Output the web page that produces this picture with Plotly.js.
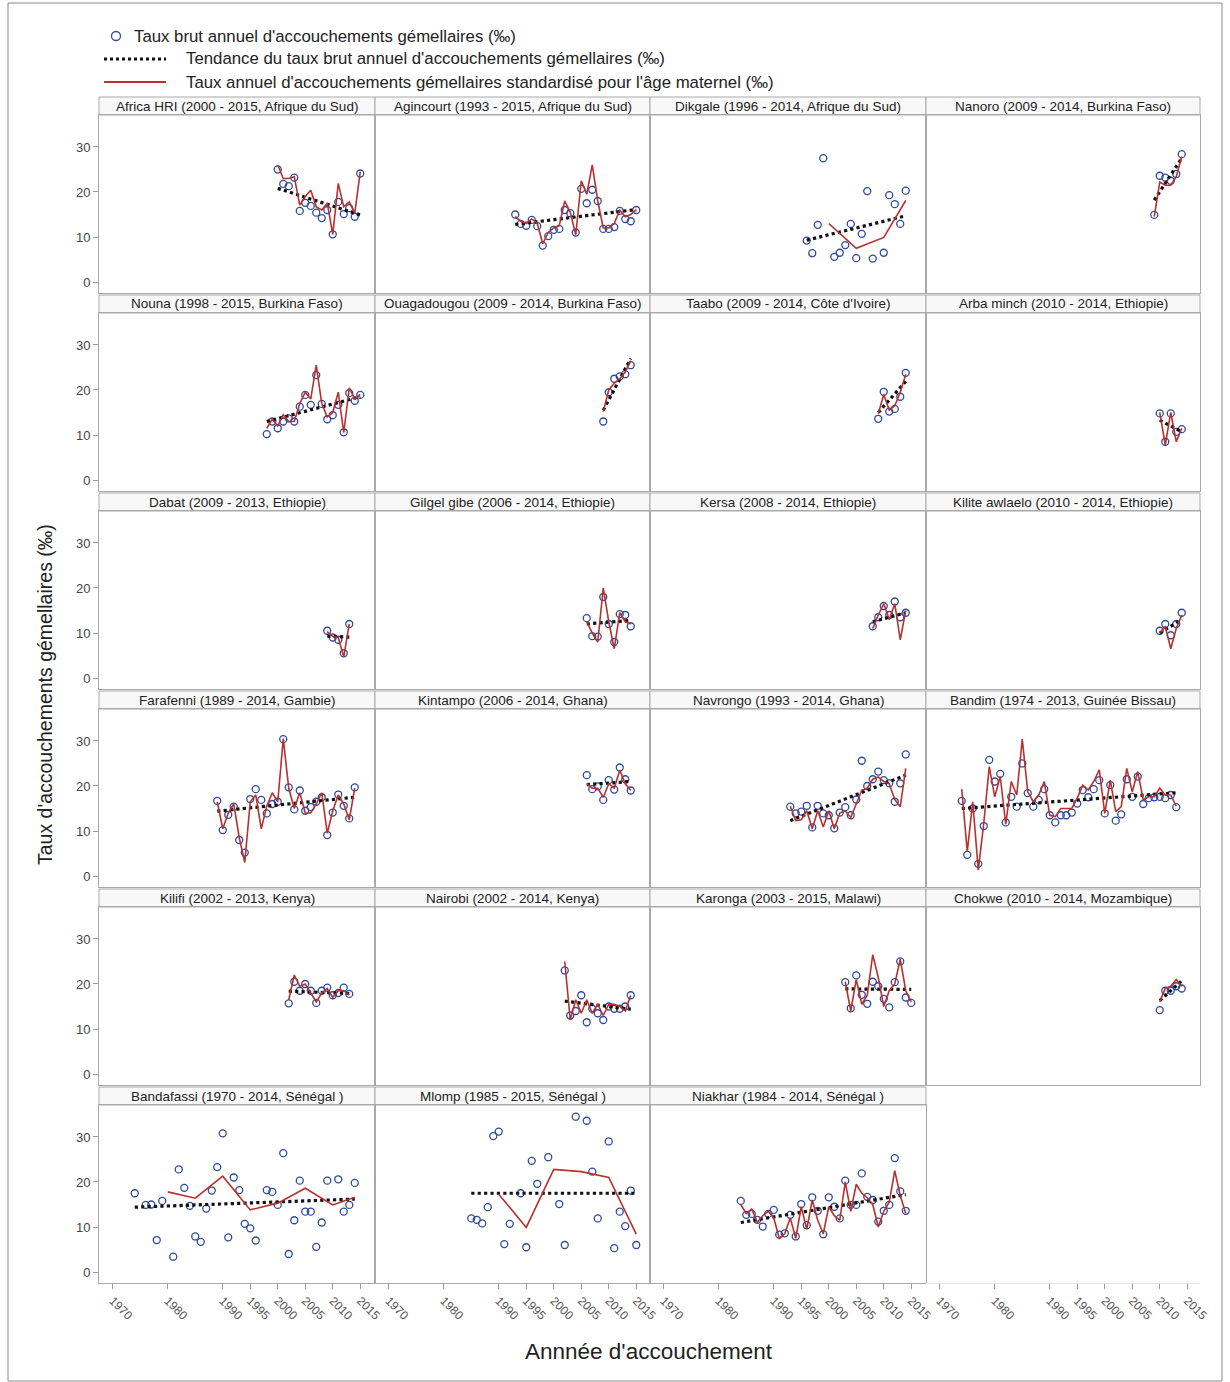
<!DOCTYPE html>
<html><head><meta charset="utf-8">
<script src="https://cdn.plot.ly/plotly-3.0.1.min.js"></script>
<style>html,body{margin:0;padding:0;background:#fff}#chart{width:1230px;height:1382px}</style>
</head><body><div id="chart"></div>
<script>
// ---------- DATA ----------
const siteTitles = [
 "Africa HRI (2000 - 2015, Afrique du Sud)", "Agincourt (1993 - 2015, Afrique du Sud)", "Dikgale (1996 - 2014, Afrique du Sud)", "Nanoro (2009 - 2014, Burkina Faso)",
 "Nouna (1998 - 2015, Burkina Faso)", "Ouagadougou (2009 - 2014, Burkina Faso)", "Taabo (2009 - 2014, Côte d'Ivoire)", "Arba minch (2010 - 2014, Ethiopie)",
 "Dabat (2009 - 2013, Ethiopie)", "Gilgel gibe (2006 - 2014, Ethiopie)", "Kersa (2008 - 2014, Ethiopie)", "Kilite awlaelo (2010 - 2014, Ethiopie)",
 "Farafenni (1989 - 2014, Gambie)", "Kintampo (2006 - 2014, Ghana)", "Navrongo (1993 - 2014, Ghana)", "Bandim (1974 - 2013, Guinée Bissau)",
 "Kilifi (2002 - 2013, Kenya)", "Nairobi (2002 - 2014, Kenya)", "Karonga (2003 - 2015, Malawi)", "Chokwe (2010 - 2014, Mozambique)",
 "Bandafassi (1970 - 2014, Sénégal )", "Mlomp (1985 - 2015, Sénégal )", "Niakhar (1984 - 2014, Sénégal )"
];
// first year of each crude series (consecutive years, null = no point)
const firstYear = [2000,1993,1996,2009, 1998,2009,2009,2010, 2009,2006,2008,2010, 1989,2006,1993,1974, 2002,2002,2003,2010, 1974,1985,1984];

const crudeRates = [
 [25.0,21.8,21.3,23.2,15.8,17.6,16.9,15.4,14.2,16.0,10.6,17.8,15.1,16.4,14.5,24.1],
 [15.0,12.9,12.5,13.8,12.4,8.1,10.2,11.6,11.8,16.0,15.3,11.0,20.7,17.5,20.5,18.0,11.8,11.8,12.2,15.8,14.0,13.5,16.0],
 [9.2,6.4,12.7,27.5,null,5.6,6.5,8.2,12.9,5.3,10.7,20.2,5.2,null,6.5,19.3,17.3,12.9,20.3],
 [14.9,23.6,23.2,22.5,24.0,28.4],
 [10.2,13.0,11.5,13.0,13.7,13.0,16.3,18.9,16.7,23.3,16.9,13.5,14.4,16.7,10.6,19.3,17.6,18.9],
 [13.0,19.5,22.5,23.0,23.5,25.5],
 [13.6,19.6,15.2,15.8,18.5,23.8],
 [14.8,8.5,14.8,10.7,11.3],
 [10.5,9.0,8.5,5.5,12.0],
 [13.3,9.3,9.2,18.0,12.0,8.0,14.2,14.0,11.5],
 [11.5,13.5,16.0,14.0,17.0,13.5,14.5],
 [10.5,12.0,9.5,12.0,14.5],
 [16.7,10.2,13.6,15.4,8.0,5.2,17.1,19.3,16.9,13.9,16.0,16.5,30.4,19.7,14.8,19.0,14.5,15.3,16.5,17.5,9.1,14.1,18.1,15.6,12.8,19.7],
 [22.4,19.3,19.9,16.9,21.3,19.2,24.1,21.5,19.0],
 [15.4,13.9,14.3,15.6,10.8,15.6,13.9,13.5,10.6,14.1,15.3,13.5,17.0,25.6,20.0,21.5,23.2,21.3,20.6,16.5,20.6,27.0],
 [16.7,4.7,15.0,2.7,11.1,25.8,21.0,22.7,11.9,17.6,15.4,25.0,18.4,15.4,16.9,19.3,13.5,11.9,13.5,13.5,14.1,16.1,19.1,17.5,19.3,21.3,13.9,20.2,12.3,13.7,21.5,17.6,22.1,16.0,17.3,17.5,17.6,17.3,18.0,15.3],
 [15.7,20.5,18.5,20.0,18.5,15.8,18.5,19.2,17.5,18.0,19.2,17.8],
 [23.0,13.0,14.0,17.5,11.5,14.5,13.5,12.0,15.0,14.5,14.5,15.0,17.5],
 [20.4,14.6,21.9,17.6,15.6,20.5,19.5,16.7,14.8,20.4,25.0,17.0,15.8],
 [14.2,18.5,18.5,19.5,19.0],
 [17.5,null,14.9,15.0,7.1,15.8,null,3.4,22.8,18.7,14.7,7.9,6.7,14.1,18.1,23.3,30.8,7.7,21.0,18.2,10.7,9.7,7.0,null,18.2,17.8,14.9,26.4,4.0,11.5,20.3,13.4,13.4,5.6,11.0,20.3,null,20.6,13.4,14.9,19.8],
 [11.9,11.6,10.8,14.4,30.2,31.2,6.2,10.7,null,17.5,5.5,24.7,19.6,null,25.5,null,15.1,6.0,null,34.5,null,33.6,22.3,11.9,null,29.0,5.3,13.4,10.2,18.1,6.0],
 [15.8,12.7,12.9,11.6,10.1,12.9,13.8,8.3,8.6,12.7,7.9,15.1,10.4,16.6,13.6,8.4,16.6,14.5,11.9,20.3,14.9,14.9,21.9,16.7,16.0,11.2,13.6,14.9,25.3,17.9,13.6]
];

// standardised rates; stdYears null = same years as crude series
const stdYears = [null,null,[2000,2005,2010,2014],null, null,null,null,null, null,null,null,null, null,null,null,null, null,null,null,null,
 [1980,1985,1990,1995,2000,2005,2010,2014],[1990,1995,2000,2005,2010,2015],null];
const stdRates = [
 [26.0,23.0,23.0,23.4,17.1,19.0,20.4,16.7,16.0,17.5,10.6,21.9,16.7,17.8,15.3,24.5],
 [14.5,13.5,13.0,14.0,13.0,8.5,11.0,12.0,12.5,18.0,15.5,10.5,22.5,19.5,26.0,18.0,12.0,12.0,13.0,16.0,14.5,15.0,16.0],
 [13.0,7.5,9.9,18.1],
 [14.5,22.2,21.5,21.5,23.4,27.9],
 [11.5,13.5,12.0,14.5,13.0,13.0,17.0,19.5,18.0,25.5,17.0,14.0,15.0,19.5,10.5,20.5,18.0,19.0],
 [15.2,20.0,21.5,22.5,24.0,26.5],
 [14.7,19.0,15.5,16.5,19.5,23.5],
 [15.0,7.8,15.0,8.5,11.5],
 [10.3,9.2,9.0,4.7,12.0],
 [12.5,10.0,8.0,20.0,12.5,6.5,14.5,12.5,12.0],
 [11.0,14.0,16.5,13.0,16.5,8.5,15.0],
 [10.0,11.5,6.5,11.0,14.0],
 [16.5,10.5,14.0,16.0,8.5,3.0,16.5,18.0,10.5,15.5,18.5,16.5,30.5,19.5,15.0,18.5,14.0,14.0,16.0,18.5,9.5,14.5,18.0,16.0,12.5,19.5],
 [20.5,19.5,19.5,17.5,20.5,19.5,23.5,20.5,19.0],
 [15.5,12.3,12.5,14.5,10.5,14.5,10.9,14.5,10.5,14.0,14.5,13.0,16.0,19.1,19.5,21.5,22.0,21.0,20.5,17.0,15.4,23.9],
 [19.3,5.4,16.5,1.3,11.7,24.3,17.6,22.1,11.5,21.0,18.0,30.4,18.7,16.5,18.0,21.0,13.5,13.2,15.0,15.0,15.0,17.3,20.2,19.1,21.0,23.6,13.9,21.3,14.3,15.4,23.9,18.7,23.2,16.9,17.6,17.6,19.5,18.0,18.0,15.5],
 [16.5,22.0,19.5,20.0,18.0,16.0,18.0,19.0,17.0,18.5,18.5,17.5],
 [25.0,12.0,16.5,13.5,16.5,13.5,15.5,13.0,15.5,15.5,15.0,14.0,17.5],
 [20.5,14.0,21.0,15.5,17.5,26.5,21.5,15.0,18.5,20.0,25.5,18.5,16.0],
 [16.0,19.0,19.5,21.0,19.5],
 [17.8,16.4,21.3,13.8,15.3,18.6,14.9,16.6],
 [17.3,9.9,22.8,22.3,21.0,8.4],
 [15,13,14,11,12.5,13.5,12,7.5,8.5,12,7.5,14.5,9.5,16,11.5,8.5,14.5,12.5,11.5,20,13.5,19.5,17.5,16.5,15,10,13.5,15.5,22.5,17,13]
];

// linear trend of crude rate: [first year, last year] and [start value, end value]
const trendYears = [[2000,2015],[1993,2015],[1996,2014],[2009,2014],[1998,2015],[2009,2014],[2009,2014],[2010,2014],
 [2009,2013],[2006,2014],[2008,2014],[2010,2014],[1989,2014],[2006,2014],[1993,2014],[1974,2013],
 [2002,2013],[2002,2014],[2003,2015],[2010,2014],[1974,2014],[1985,2015],[1984,2014]];
const trendRates = [[20.8,14.9],[12.8,16.1],[9.3,14.7],[18.2,27.5],[13.0,18.5],[15.5,27.0],[15.0,21.9],[13.3,10.7],
 [9.3,9.1],[12.0,12.8],[12.5,14.5],[10.0,13.0],[14.4,17.5],[20.3,21.0],[12.3,22.4],[15.0,18.5],
 [18.4,17.9],[16.2,14.4],[18.9,18.8],[16.3,20.7],[14.4,16.2],[17.5,17.5],[11.0,17.2]];

const xTickVals = [1970,1980,1990,1995,2000,2005,2010,2015];
const yTickVals = [0,10,20,30];
const legendLabels = ["Taux brut annuel d'accouchements gémellaires (‰)",
 "Tendance du taux brut annuel d'accouchements gémellaires (‰)",
 "Taux annuel d'accouchements gémellaires standardisé pour l'âge maternel (‰)"];

// ---------- LAYOUT ----------
const W = 1230, H = 1382;
const FONT = "Liberation Sans, Arial, sans-serif";
const colL = [99,375,650,926], colR = [375,650,926,1200];
const rowTop0 = 115, rowH = 198, plotH = 178, stripH = 18;
const px = v => v / W, py = v => 1 - v / H;
const CIRC = '#2d4b9e', RED = '#b8312f', BORDER = '#a9a9a9';

const traces = [];
const layout = {
  width: W, height: H, margin: {l:0, r:0, t:0, b:0},
  paper_bgcolor: '#fff', plot_bgcolor: '#fff', showlegend: false,
  font: {family: FONT, color: '#222'},
  shapes: [], annotations: []
};

for (let i = 0; i < 24; i++) {
  const r = Math.floor(i / 4), c = i % 4, k = i + 1;
  const top = rowTop0 + r * rowH, bot = top + plotH;
  const xa = 'xaxis' + (k === 1 ? '' : k), ya = 'yaxis' + (k === 1 ? '' : k);
  const xid = 'x' + (k === 1 ? '' : k), yid = 'y' + (k === 1 ? '' : k);
  const has = i < siteTitles.length;
  layout[xa] = {
    domain: [px(colL[c]), px(colR[c])], range: [1967.5, 1967.5 + (colR[c] - colL[c]) / 5.5],
    anchor: yid, showgrid: false, zeroline: false,
    showline: true, mirror: has, linecolor: has ? BORDER : '#e4e4e4', linewidth: 1,
    tickvals: xTickVals, ticks: r === 5 ? 'outside' : '', ticklen: 5, tickcolor: '#999',
    showticklabels: r === 5, tickangle: 45, tickfont: {size: 12, color: '#555', family: FONT}
  };
  layout[ya] = {
    domain: [py(bot), py(top)], range: [-2.44, 37.1], anchor: xid,
    showgrid: false, zeroline: false, showline: has, mirror: true, linecolor: BORDER, linewidth: 1,
    tickvals: yTickVals, ticks: (c === 0 && has) ? 'outside' : '', ticklen: 5, tickcolor: '#999',
    showticklabels: c === 0 && has, tickfont: {size: 13, color: '#444', family: FONT}
  };
  if (!has) {
    // empty cell keeps its year axis
    traces.push({x: [], y: [], xaxis: xid, yaxis: yid, type: 'scatter', mode: 'markers', hoverinfo: 'skip'});
    continue;
  }
  // strip
  layout.shapes.push({type:'rect', xref:'paper', yref:'paper', x0:px(colL[c]), x1:px(colR[c]),
    y0:py(top), y1:py(top - stripH), fillcolor:'#f8f8f8', line:{color:BORDER, width:1}, layer:'below'});
  layout.annotations.push({xref:'paper', yref:'paper', x:px((colL[c]+colR[c])/2), y:py(top - stripH/2),
    text: siteTitles[i], showarrow:false, xanchor:'center', yanchor:'middle', font:{size:13.5, color:'#222', family:FONT}});

  const yrs = crudeRates[i].map((_, j) => firstYear[i] + j);
  traces.push({x: yrs, y: crudeRates[i], xaxis: xid, yaxis: yid, mode: 'markers', type: 'scatter',
    name: legendLabels[0], cliponaxis: false,
    marker: {symbol: 'circle-open', size: 7, color: CIRC, line: {width: 1.3, color: CIRC}}});
  traces.push({x: trendYears[i], y: trendRates[i], xaxis: xid, yaxis: yid, mode: 'lines', type: 'scatter',
    name: legendLabels[1], line: {color: '#111', width: 3.2, dash: 'dot'}});
  traces.push({x: stdYears[i] || yrs, y: stdRates[i], xaxis: xid, yaxis: yid, mode: 'lines', type: 'scatter',
    name: legendLabels[2], connectgaps: true, line: {color: RED, width: 1.6}});
}

// manual legend
layout.shapes.push({type:'circle', xref:'paper', yref:'paper', x0:px(111.5), x1:px(120.5), y0:py(40.5), y1:py(31.5),
  line:{color:CIRC, width:1.3}});
layout.shapes.push({type:'line', xref:'paper', yref:'paper', x0:px(104), x1:px(166), y0:py(59), y1:py(59),
  line:{color:'#111', width:3, dash:'dot'}});
layout.shapes.push({type:'line', xref:'paper', yref:'paper', x0:px(104), x1:px(166), y0:py(82), y1:py(82),
  line:{color:RED, width:2}});
[[132,36],[184,59],[184,82]].forEach((p, j) => layout.annotations.push({xref:'paper', yref:'paper',
  x:px(p[0]), y:py(p[1]), text: legendLabels[j], showarrow:false, xanchor:'left', yanchor:'middle',
  font:{size:16.8, color:'#222', family:FONT}}));

// axis titles
layout.annotations.push({xref:'paper', yref:'paper', x:px(649), y:py(1351), text:"Annnée d'accouchement",
  showarrow:false, xanchor:'center', yanchor:'middle', font:{size:22.5, color:'#222', family:FONT}});
layout.annotations.push({xref:'paper', yref:'paper', x:px(45), y:py(695), text:"Taux d'accouchements gémellaires (‰)",
  showarrow:false, textangle:-90, xanchor:'center', yanchor:'middle', font:{size:19.5, color:'#222', family:FONT}});

// outer frame
layout.shapes.push({type:'rect', xref:'paper', yref:'paper', x0:px(8), x1:px(1222), y0:py(1381), y1:py(3),
  line:{color:'#8a8a8a', width:1}, layer:'below'});

Plotly.newPlot('chart', traces, layout, {staticPlot: true, displayModeBar: false});
</script></body></html>
